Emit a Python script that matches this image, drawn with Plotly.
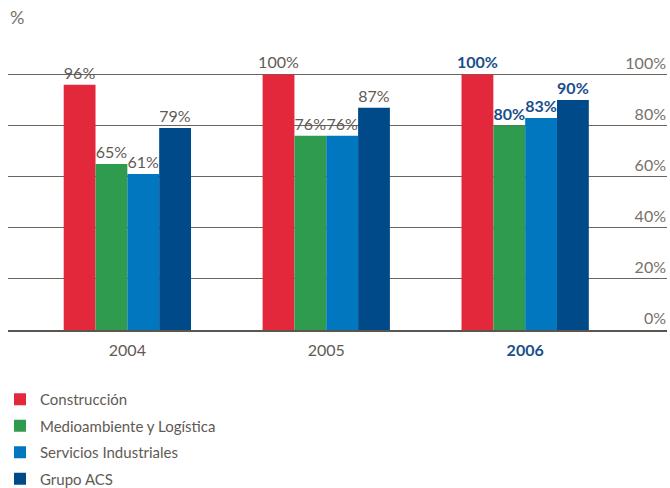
import plotly.graph_objects as go

years = ["2004", "2005", "2006"]
series_names = ["Construcción", "Medioambiente y Logística", "Servicios Industriales", "Grupo ACS"]
construccion = [96, 100, 100]
medioambiente = [65, 76, 80]
servicios = [61, 76, 83]
grupo_acs = [79, 87, 90]
colors = ["#E3283C", "#2E9B4F", "#0077BF", "#004A8A"]
y_ticks = [0, 20, 40, 60, 80, 100]

series = [construccion, medioambiente, servicios, grupo_acs]
HL = "#1A4F8B"
GRAY = "#5f5a55"
FONT = "Lato"

fig = go.Figure()
for i, (name, vals) in enumerate(zip(series_names, series)):
    texts = []
    tcolors = []
    for y, v in zip(years, vals):
        if y == "2006":
            texts.append(f"<b>{v}%</b>")
            tcolors.append(HL)
        else:
            texts.append(f"{v}%")
            tcolors.append(GRAY)
    fig.add_trace(go.Bar(
        x=years, y=vals, name=name, legendgroup=f"g{i}",
        marker=dict(color=colors[i], line=dict(width=0)),
        text=texts, textposition="outside", constraintext="none",
        cliponaxis=False,
        textfont=dict(family=FONT, size=16, color=tcolors),
        hoverinfo="skip",
    ))

ticktext = [f"<b><span style='color:{HL}'>{y}</span></b>" if y == "2006" else y for y in years]

fig.update_layout(
    width=670, height=488,
    margin=dict(l=8, r=3, t=54, b=158, autoexpand=False),
    paper_bgcolor="white", plot_bgcolor="white",
    barmode="group", bargap=0.36, bargroupgap=0,
    font=dict(family=FONT, size=14, color=GRAY),
    showlegend=True,
    legend=dict(
        orientation="v", x=-8 / 659, y=(330 - 383) / 276,
        xanchor="left", yanchor="top", tracegroupgap=4,
        font=dict(family=FONT, size=15, color=GRAY),
        bgcolor="rgba(0,0,0,0)",
    ),
    xaxis=dict(
        type="category", range=[-0.6, 2.713], automargin=False,
        tickvals=years, ticktext=ticktext,
        showgrid=False, showline=True, linecolor="#5a554f", linewidth=2,
        ticks="", ticklabelstandoff=5,
        tickfont=dict(family=FONT, size=16, color=GRAY),
        fixedrange=True,
    ),
    yaxis=dict(
        range=[0, 108], side="right", automargin=False,
        tickvals=y_ticks, ticktext=[f"{t}%" for t in y_ticks],
        ticklabelposition="inside top", ticklabeloverflow="allow",
        ticklabelstandoff=-2,
        showgrid=True, gridcolor="#6a655f", gridwidth=1.3,
        zeroline=False, showline=False, ticks="",
        tickfont=dict(family=FONT, size=16, color="#77716b"),
        fixedrange=True,
    ),
    annotations=[dict(
        text="%", xref="paper", yref="paper", x=0, y=1 + (54 - 17) / 276,
        xanchor="left", yanchor="middle", showarrow=False,
        font=dict(family=FONT, size=18, color="#77716b"),
    )],
)

fig.write_html("out.html", config={"displayModeBar": False},
               post_script="document.body.style.margin='0';")
